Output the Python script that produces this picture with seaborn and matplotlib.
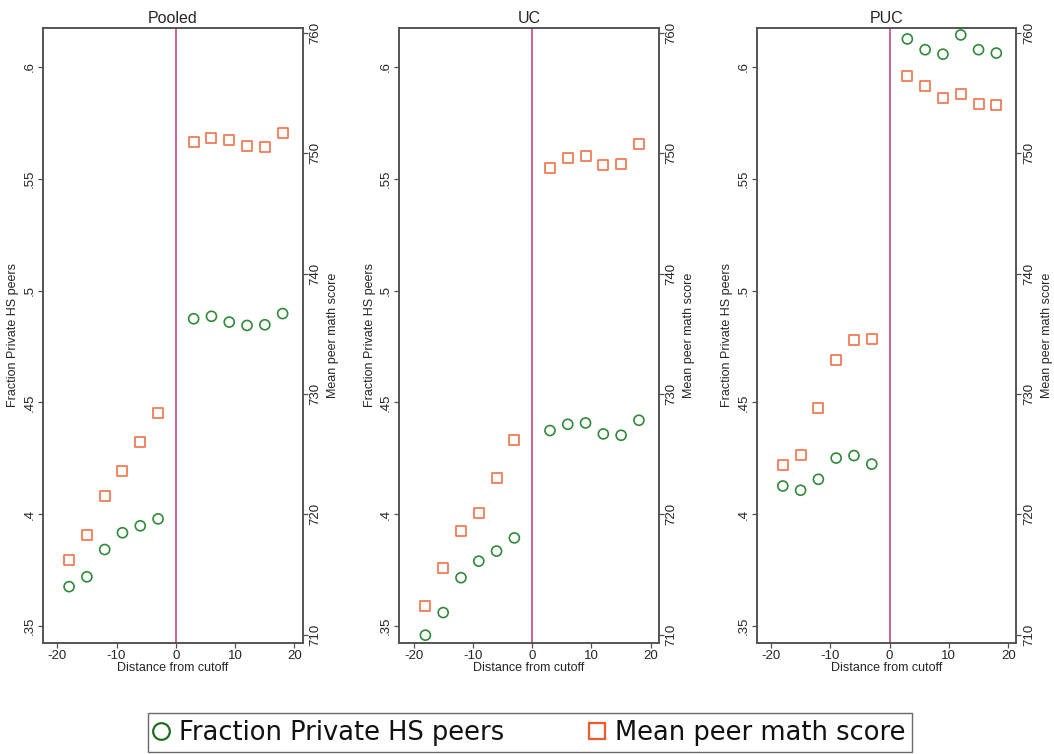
import numpy as np
import pandas as pd
import matplotlib
matplotlib.use("Agg")
import matplotlib.pyplot as plt
from matplotlib.lines import Line2D
import seaborn as sns

# ---------------- data ----------------
panels = ["Pooled", "UC", "PUC"]
distance = [-18, -15, -12, -9, -6, -3, 3, 6, 9, 12, 15, 18]

frac_pooled = [0.3676, 0.3720, 0.3842, 0.3917, 0.3948, 0.3979,
               0.4874, 0.4885, 0.4859, 0.4844, 0.4847, 0.4897]
frac_uc = [0.3459, 0.3560, 0.3716, 0.3790, 0.3835, 0.3894,
           0.4374, 0.4402, 0.4408, 0.4359, 0.4353, 0.4420]
frac_puc = [0.4126, 0.4107, 0.4156, 0.4251, 0.4262, 0.4224,
            0.6125, 0.6077, 0.6057, 0.6143, 0.6077, 0.6062]

math_pooled = [716.2, 718.3, 721.5, 723.6, 726.0, 728.4,
               750.9, 751.3, 751.1, 750.6, 750.5, 751.7]
math_uc = [712.4, 715.5, 718.6, 720.1, 723.0, 726.2,
           748.8, 749.6, 749.8, 749.0, 749.1, 750.8]
math_puc = [724.1, 724.9, 728.8, 732.8, 734.5, 734.6,
            756.4, 755.6, 754.6, 754.9, 754.1, 754.0]

left_ticks = [0.35, 0.4, 0.45, 0.5, 0.55, 0.6]
left_labels = [".35", ".4", ".45", ".5", ".55", ".6"]
right_ticks = [710, 720, 730, 740, 750, 760]
right_labels = ["710", "720", "730", "740", "750", "760"]
x_ticks = [-20, -10, 0, 10, 20]
x_labels = ["-20", "-10", "0", "10", "20"]

legend_labels = ["Fraction Private HS peers", "Mean peer math score"]
x_title = "Distance from cutoff"
left_title = "Fraction Private HS peers"
right_title = "Mean peer math score"

frac_series = [frac_pooled, frac_uc, frac_puc]
math_series = [math_pooled, math_uc, math_puc]

# ---------------- style ----------------
sns.set_style("white")
plt.rcParams["font.family"] = ["Liberation Sans", "DejaVu Sans"]
plt.rcParams["axes.unicode_minus"] = False

GREEN = "#2f8a3a"
ORANGE = "#f0734a"
PINK = "#cc5590"
SPINE = "#505050"

fig = plt.figure(figsize=(10.54, 7.54), dpi=100)

ax_lefts = [43 / 1054, 399.3 / 1054, 756.7 / 1054]
ax_w = 259.5 / 1054
ax_bottom = 1 - 643 / 754
ax_h = (643 - 28) / 754

for i, name in enumerate(panels):
    ax = fig.add_axes([ax_lefts[i], ax_bottom, ax_w, ax_h])
    df = pd.DataFrame({"distance": distance,
                       "frac": frac_series[i],
                       "math": math_series[i]})

    ax.axvline(0, color=PINK, lw=1.3, zorder=1)
    sns.scatterplot(data=df, x="distance", y="frac", ax=ax, marker="o",
                    s=52, color=GREEN, linewidth=1.2, legend=False, zorder=3)
    pc = ax.collections[-1]
    pc.set_facecolor("none")
    pc.set_edgecolor(GREEN)
    pc.set_linewidth(1.2)

    ax.set_xlim(-22.4, 21.35)
    ax.set_ylim(0.3424, 0.6174)
    ax.set_xticks(x_ticks)
    ax.set_xticklabels(x_labels, fontsize=9.5)
    ax.set_yticks(left_ticks)
    ax.set_yticklabels(left_labels, fontsize=9.5, rotation=90, va="center")
    ax.set_xlabel(x_title, fontsize=9, labelpad=0)
    ax.set_ylabel(left_title, fontsize=9, labelpad=3)
    ax.set_title(name, fontsize=11.5, pad=3.5)
    ax.tick_params(axis="both", direction="out", length=3.5, width=0.9,
                   color=SPINE, pad=1.8, left=True, bottom=True)
    for sp in ax.spines.values():
        sp.set_color(SPINE)
        sp.set_linewidth(1.1)

    ax2 = ax.twinx()
    sns.scatterplot(data=df, x="distance", y="math", ax=ax2, marker="s",
                    s=52, color=ORANGE, linewidth=1.2, legend=False, zorder=3)
    pc2 = ax2.collections[-1]
    pc2.set_facecolor("none")
    pc2.set_edgecolor(ORANGE)
    pc2.set_linewidth(1.2)
    ax2.set_ylim(709.3, 760.4)
    ax2.set_yticks(right_ticks)
    ax2.set_yticklabels(right_labels, fontsize=9.5, rotation=90, va="center")
    ax2.set_ylabel(right_title, fontsize=9, labelpad=4)
    ax2.tick_params(axis="y", direction="out", length=3.5, width=0.9,
                    color=SPINE, pad=1.5, right=True)
    ax2.grid(False)
    for sp in ax2.spines.values():
        sp.set_color(SPINE)
        sp.set_linewidth(1.1)

handles = [
    Line2D([], [], linestyle="none", marker="o", markersize=12,
           markerfacecolor="none", markeredgecolor="#1f6e1f", markeredgewidth=1.6),
    Line2D([], [], linestyle="none", marker="s", markersize=12,
           markerfacecolor="none", markeredgecolor="#f05a28", markeredgewidth=1.6),
]
leg = fig.legend(handles, legend_labels, loc="lower left",
                 bbox_to_anchor=(148 / 1054, 2 / 754, 764 / 1054, 43 / 754),
                 mode="expand", ncol=2, frameon=True, fancybox=False,
                 prop={"family": "DejaVu Sans", "size": 18.5},
                 handlelength=0.5, handletextpad=0.45, borderpad=0.25,
                 borderaxespad=0, columnspacing=2.0, labelcolor="#111111")
leg.get_frame().set_edgecolor("#444444")
leg.get_frame().set_linewidth(1.0)

fig.savefig("out.png", dpi=100, facecolor="white")
